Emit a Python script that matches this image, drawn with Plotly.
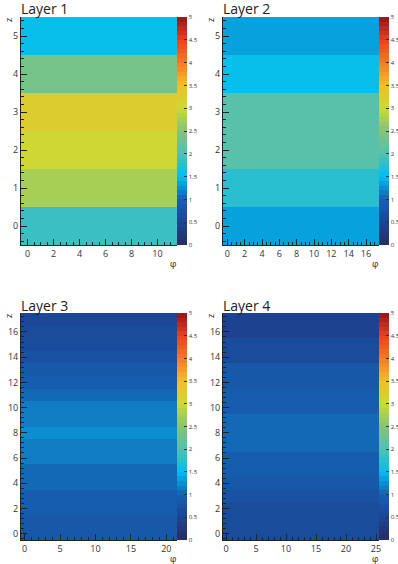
import plotly.graph_objects as go

# row values (one per z bin, bottom to top); each row is flat across phi
layer1_rows = [1.8, 2.7, 3.05, 3.3, 2.35, 1.55]
layer2_rows = [1.4, 1.75, 2.05, 2.05, 1.55, 1.3]
layer3_rows = [0.8, 0.85, 0.9, 0.95, 1.0, 1.05, 1.1, 1.15, 1.2, 1.15,
               1.1, 1.05, 0.95, 0.85, 0.75, 0.7, 0.6, 0.55]
layer4_rows = [0.6, 0.65, 0.7, 0.75, 0.8, 0.9, 0.95, 1.0, 1.05, 1.0,
               0.95, 0.9, 0.85, 0.8, 0.7, 0.6, 0.45, 0.4]
n_phi = [12, 18, 22, 26]
titles = ["Layer 1", "Layer 2", "Layer 3", "Layer 4"]

W, H = 398, 564

# palette anchors (fraction of 0..5)
anchors = [(0.0, (40, 45, 100)), (0.1, (28, 68, 148)), (0.2, (22, 96, 176)),
           (0.3, (0, 190, 240)), (0.4, (84, 192, 176)), (0.5, (132, 196, 120)),
           (0.6, (202, 218, 52)), (0.7, (240, 190, 45)), (0.8, (242, 122, 40)),
           (0.9, (235, 62, 36)), (1.0, (140, 25, 25))]


def col_at(f):
    for (f0, c0), (f1, c1) in zip(anchors[:-1], anchors[1:]):
        if f <= f1:
            t = (f - f0) / (f1 - f0)
            return "rgb(%d,%d,%d)" % tuple(round(a + (b - a) * t) for a, b in zip(c0, c1))
    return "rgb(%d,%d,%d)" % anchors[-1][1]


nlev = 50
cscale = []
for i in range(nlev):
    c = col_at((i + 0.5) / nlev)
    cscale.append([i / nlev, c])
    cscale.append([(i + 1) / nlev, c])

# pixel boxes of the plot areas: left, right, top, bottom
boxes = [(21, 177, 17, 245), (223, 379, 17, 245),
         (21, 177, 313, 540), (223, 379, 313, 540)]
xticks = [dict(dtick=2, minor=0.5), dict(dtick=2, minor=0.5),
          dict(dtick=5, minor=1), dict(dtick=5, minor=1)]
yticks = [dict(dtick=1, minor=0.2), dict(dtick=1, minor=0.2),
          dict(dtick=2, minor=0.4), dict(dtick=2, minor=0.4)]

fig = go.Figure()
rows_all = [layer1_rows, layer2_rows, layer3_rows, layer4_rows]
for k in range(4):
    rows = rows_all[k]
    nx = n_phi[k]
    z = [[v] * nx for v in rows]
    l, r, t, b = boxes[k]
    xa = "x" if k == 0 else "x%d" % (k + 1)
    ya = "y" if k == 0 else "y%d" % (k + 1)
    fig.add_trace(go.Heatmap(
        z=z, x=list(range(nx)), y=list(range(len(rows))),
        colorscale=cscale, zmin=0, zmax=5, xaxis=xa, yaxis=ya,
        colorbar=dict(x=r / W, xanchor="left", thickness=10, thicknessmode="pixels",
                      len=b - t, lenmode="pixels", y=1 - (t + b) / 2 / H, yanchor="middle",
                      outlinewidth=0, tick0=0, dtick=0.5, ticks="inside", ticklen=3,
                      tickcolor="#333", tickfont=dict(size=6, color="#333", family="Open Sans"),
                      ypad=0, xpad=0),
    ))
    axk = "" if k == 0 else str(k + 1)
    fig.layout["xaxis" + axk] = dict(
        domain=[l / W, r / W], anchor=ya, range=[-0.5, nx - 0.5],
        showgrid=False, zeroline=False, showline=True, linecolor="#222", linewidth=1,
        ticks="inside", ticklen=6, tickcolor="#222", tick0=0, dtick=xticks[k]["dtick"],
        minor=dict(ticks="inside", ticklen=3, dtick=xticks[k]["minor"], tick0=0, tickcolor="#222"),
        tickfont=dict(size=9, color="#333", family="Open Sans"), fixedrange=True)
    fig.layout["yaxis" + axk] = dict(
        domain=[1 - b / H, 1 - t / H], anchor=xa, range=[-0.5, len(rows) - 0.5],
        showgrid=False, zeroline=False, showline=True, linecolor="#222", linewidth=1,
        ticks="inside", ticklen=6, tickcolor="#222", tick0=0, dtick=yticks[k]["dtick"],
        minor=dict(ticks="inside", ticklen=3, dtick=yticks[k]["minor"], tick0=0, tickcolor="#222"),
        tickfont=dict(size=9, color="#333", family="Open Sans"), fixedrange=True)
    # title
    fig.add_annotation(x=(l - 2) / W, y=1 - (t - 8) / H, xref="paper", yref="paper",
                       text=titles[k], showarrow=False, xanchor="left", yanchor="middle",
                       font=dict(size=14, color="#222", family="Open Sans"))
    # axis titles
    fig.add_annotation(x=(l - 13) / W, y=1 - (t + 3) / H, xref="paper", yref="paper",
                       text="z", showarrow=False, textangle=-90, xanchor="center", yanchor="middle",
                       font=dict(size=9, color="#222", family="Open Sans"))
    fig.add_annotation(x=(r - 4) / W, y=1 - (b + 18) / H, xref="paper", yref="paper",
                       text="φ", showarrow=False, xanchor="center", yanchor="middle", borderpad=0,
                       font=dict(size=9, color="#222", family="Open Sans"))

fig.update_layout(width=W, height=H, margin=dict(l=0, r=0, t=0, b=0, autoexpand=False),
                  paper_bgcolor="white", plot_bgcolor="white")
fig.write_html("out.html", config={"displayModeBar": False},
               post_script="document.body.style.margin='0';")
